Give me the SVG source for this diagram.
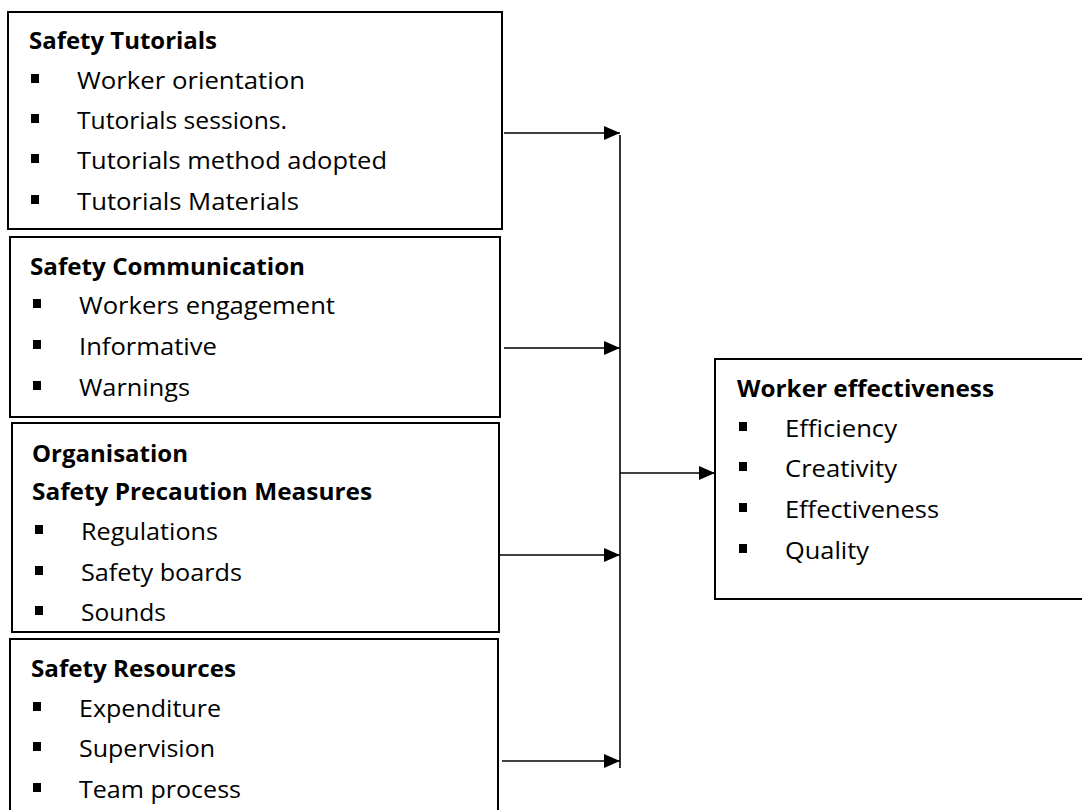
<svg xmlns="http://www.w3.org/2000/svg" width="1082" height="810" viewBox="0 0 1082 810">
<style>
.box{fill:#fff;stroke:#000;stroke-width:2}
.t{font-family:"Open Sans","Liberation Sans",sans-serif;font-size:23.5px;fill:#000}
.b{font-weight:bold;font-size:24px}
.bl{fill:#000}
.ln{stroke:#000;stroke-width:1.6;fill:none}
</style>
<defs>
<marker id="ah" viewBox="0 0 16 14" refX="16" refY="7" markerWidth="16" markerHeight="14" markerUnits="userSpaceOnUse" orient="auto">
<path d="M0,0 L16,7 L0,14 Z" fill="#000"/>
</marker>
</defs>
<rect width="1082" height="810" fill="#fff"/>
<g id="safety-tutorials">
<rect class="box" x="8" y="12" width="494" height="217"/>
<text class="t b" x="29" y="49" textLength="188" lengthAdjust="spacingAndGlyphs">Safety Tutorials</text>
<rect class="bl" x="31" y="74" width="8" height="9"/>
<text class="t" x="77" y="89" textLength="228" lengthAdjust="spacingAndGlyphs">Worker orientation</text>
<rect class="bl" x="31" y="114" width="8" height="9"/>
<text class="t" x="77" y="129" textLength="210" lengthAdjust="spacingAndGlyphs">Tutorials sessions.</text>
<rect class="bl" x="31" y="154" width="8" height="9"/>
<text class="t" x="77" y="169" textLength="310" lengthAdjust="spacingAndGlyphs">Tutorials method adopted</text>
<rect class="bl" x="31" y="195" width="8" height="9"/>
<text class="t" x="77" y="210" textLength="222" lengthAdjust="spacingAndGlyphs">Tutorials Materials</text>
</g>
<g id="safety-communication">
<rect class="box" x="10" y="237" width="490" height="180"/>
<text class="t b" x="30" y="275" textLength="275" lengthAdjust="spacingAndGlyphs">Safety Communication</text>
<rect class="bl" x="33" y="299" width="8" height="9"/>
<text class="t" x="79" y="314" textLength="256" lengthAdjust="spacingAndGlyphs">Workers engagement</text>
<rect class="bl" x="33" y="340" width="8" height="9"/>
<text class="t" x="79" y="355" textLength="138" lengthAdjust="spacingAndGlyphs">Informative</text>
<rect class="bl" x="33" y="381" width="8" height="9"/>
<text class="t" x="79" y="396" textLength="111" lengthAdjust="spacingAndGlyphs">Warnings</text>
</g>
<g id="organisation-safety-precaution">
<rect class="box" x="12" y="423" width="487" height="209"/>
<text class="t b" x="32" y="462" textLength="156" lengthAdjust="spacingAndGlyphs">Organisation</text>
<text class="t b" x="32" y="500" textLength="340" lengthAdjust="spacingAndGlyphs">Safety Precaution Measures</text>
<rect class="bl" x="35" y="525" width="8" height="9"/>
<text class="t" x="81" y="540" textLength="137" lengthAdjust="spacingAndGlyphs">Regulations</text>
<rect class="bl" x="35" y="566" width="8" height="9"/>
<text class="t" x="81" y="581" textLength="161" lengthAdjust="spacingAndGlyphs">Safety boards</text>
<rect class="bl" x="35" y="606" width="8" height="9"/>
<text class="t" x="81" y="621" textLength="85" lengthAdjust="spacingAndGlyphs">Sounds</text>
</g>
<g id="safety-resources">
<rect class="box" x="10" y="639" width="488" height="185"/>
<text class="t b" x="31" y="677" textLength="205" lengthAdjust="spacingAndGlyphs">Safety Resources</text>
<rect class="bl" x="33" y="702" width="8" height="9"/>
<text class="t" x="79" y="717" textLength="142" lengthAdjust="spacingAndGlyphs">Expenditure</text>
<rect class="bl" x="33" y="742" width="8" height="9"/>
<text class="t" x="79" y="757" textLength="136" lengthAdjust="spacingAndGlyphs">Supervision</text>
<rect class="bl" x="33" y="783" width="8" height="9"/>
<text class="t" x="79" y="798" textLength="162" lengthAdjust="spacingAndGlyphs">Team process</text>
</g>
<g id="worker-effectiveness">
<rect class="box" x="715" y="359" width="380" height="240"/>
<text class="t b" x="737" y="397" textLength="257" lengthAdjust="spacingAndGlyphs">Worker effectiveness</text>
<rect class="bl" x="739" y="422" width="8" height="9"/>
<text class="t" x="785" y="437" textLength="112" lengthAdjust="spacingAndGlyphs">Efficiency</text>
<rect class="bl" x="739" y="462" width="8" height="9"/>
<text class="t" x="785" y="477" textLength="112" lengthAdjust="spacingAndGlyphs">Creativity</text>
<rect class="bl" x="739" y="503" width="8" height="9"/>
<text class="t" x="785" y="518" textLength="154" lengthAdjust="spacingAndGlyphs">Effectiveness</text>
<rect class="bl" x="739" y="544" width="8" height="9"/>
<text class="t" x="785" y="559" textLength="84" lengthAdjust="spacingAndGlyphs">Quality</text>
</g>
<g id="connectors">
<line class="ln" x1="504" y1="133" x2="620" y2="133" marker-end="url(#ah)"/>
<line class="ln" x1="504" y1="348" x2="620" y2="348" marker-end="url(#ah)"/>
<line class="ln" x1="499" y1="555" x2="620" y2="555" marker-end="url(#ah)"/>
<line class="ln" x1="502" y1="761" x2="620" y2="761" marker-end="url(#ah)"/>
<line class="ln" x1="620" y1="135" x2="620" y2="768"/>
<line class="ln" x1="620" y1="473" x2="715" y2="473" marker-end="url(#ah)"/>
</g>
</svg>
